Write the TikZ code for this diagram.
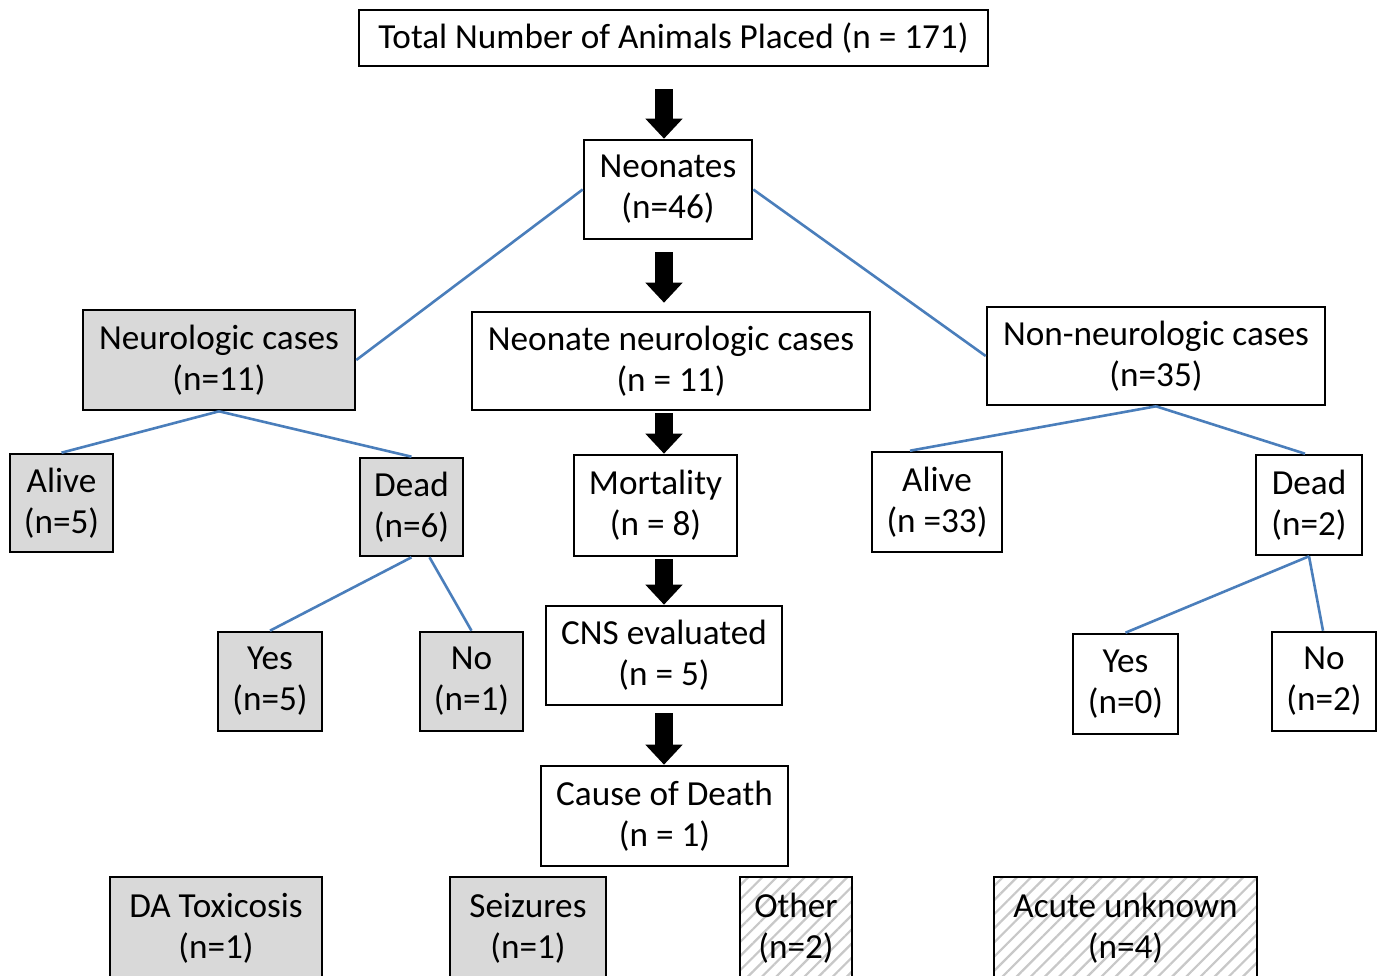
\documentclass[tikz,border=0pt]{standalone}
\usepackage{fontspec}
\setmainfont{Carlito}
\usepackage{tikz}
\usetikzlibrary{arrows.meta,patterns.meta}
\definecolor{lineblue}{HTML}{4A7EBB}
\definecolor{boxgray}{HTML}{D9D9D9}
\definecolor{hatchgray}{HTML}{C8C8C8}

\begin{document}
\begin{tikzpicture}[x=0.5pt,y=-0.5pt,
  box/.style={draw=black,line width=1.3pt,fill=white,inner sep=0pt,align=center,
    font=\fontsize{17.6}{20.5}\selectfont},
  graybox/.style={box,fill=boxgray},
  hatchbox/.style={box,fill=none,pattern={Lines[angle=45,distance=5pt,line width=1.1pt]},
    pattern color=hatchgray},
  link/.style={draw=lineblue,line width=1.3pt},
  bigarrow/.style={line width=9pt,-{Triangle[width=18pt,length=10pt]}}]
  \useasboundingbox (0,0) rectangle (1387,975);
  \clip (0,0) rectangle (1387,975);
  % main column
  \node[box,minimum width=314.5pt,minimum height=28pt] (total) at (673.5,38) {Total Number of Animals Placed (n = 171)};
  \node[box,minimum width=84pt,minimum height=49.5pt] (neo) at (668,189.5) {Neonates\\(n=46)};
  \node[box,minimum width=199pt,minimum height=49pt] (nnc) at (671,361) {Neonate neurologic cases\\(n = 11)};
  \node[box,minimum width=81.5pt,minimum height=50.5pt] (mort) at (655.5,505.5) {Mortality\\(n = 8)};
  \node[box,minimum width=118pt,minimum height=49.5pt] (cns) at (664,655.5) {CNS evaluated\\(n = 5)};
  \node[box,minimum width=123.5pt,minimum height=50pt] (cause) at (664.5,816) {Cause of Death\\(n = 1)};
  \coordinate (spine) at (664,0);
  % left branch
  \node[graybox,minimum width=136pt,minimum height=50pt] (neuro) at (219,360) {Neurologic cases\\(n=11)};
  \node[graybox,minimum width=51.5pt,minimum height=49pt] (aliveL) at (61.5,503) {Alive\\(n=5)};
  \node[graybox,minimum width=51.5pt,minimum height=49pt] (deadL) at (411.5,507) {Dead\\(n=6)};
  \node[graybox,minimum width=52pt,minimum height=49.5pt] (yesL) at (270,681.5) {Yes\\(n=5)};
  \node[graybox,minimum width=51.5pt,minimum height=49.5pt] (noL) at (471.5,681.5) {No\\(n=1)};
  % right branch
  \node[box,minimum width=169pt,minimum height=49pt] (nonneuro) at (1156,356) {Non-neurologic cases\\(n=35)};
  \node[box,minimum width=65pt,minimum height=50pt] (aliveR) at (937,502) {Alive\\(n =33)};
  \node[box,minimum width=53pt,minimum height=50pt] (deadR) at (1309,505) {Dead\\(n=2)};
  \node[box,minimum width=52.5pt,minimum height=50pt] (yesR) at (1125.5,684) {Yes\\(n=0)};
  \node[box,minimum width=52pt,minimum height=49.5pt] (noR) at (1324,681.5) {No\\(n=2)};
  % causes
  \node[graybox,minimum width=106pt,minimum height=51pt] (datox) at (216,928) {DA Toxicosis\\(n=1)};
  \node[graybox,minimum width=78pt,minimum height=51pt] (seiz) at (528,928) {Seizures\\(n=1)};
  \node[hatchbox,minimum width=56pt,minimum height=51pt] (other) at (796,928) {Other\\(n=2)};
  \node[hatchbox,minimum width=131.5pt,minimum height=51pt] (acute) at (1125.5,928) {Acute unknown\\(n=4)};
  % arrows
  \draw[bigarrow] ([yshift=-11pt]total.south -| spine) -- (neo.north -| spine);
  \draw[bigarrow] ([yshift=-6pt]neo.south -| spine) -- ([yshift=4pt]nnc.north -| spine);
  \draw[bigarrow] ([yshift=-1pt]nnc.south -| spine) -- (mort.north -| spine);
  \draw[bigarrow] ([yshift=-1pt]mort.south -| spine) -- (cns.north -| spine);
  \draw[bigarrow] ([yshift=-3.5pt]cns.south -| spine) -- (cause.north -| spine);
  % links
  \draw[link] (neo.west) -- (neuro.east);
  \draw[link] (neo.east) -- (nonneuro.west);
  \draw[link] (neuro.south) -- (aliveL.north);
  \draw[link] (neuro.south) -- (deadL.north);
  \draw[link] (deadL.south) -- (yesL.north);
  \draw[link] ([xshift=9pt]deadL.south) -- (noL.north);
  \draw[link] (nonneuro.south) -- ([xshift=-13.5pt]aliveR.north);
  \draw[link] (nonneuro.south) -- ([xshift=-2pt]deadR.north);
  \draw[link] (deadR.south) -- (yesR.north);
  \draw[link] (deadR.south) -- ([xshift=-0.5pt]noR.north);
\end{tikzpicture}
\end{document}
